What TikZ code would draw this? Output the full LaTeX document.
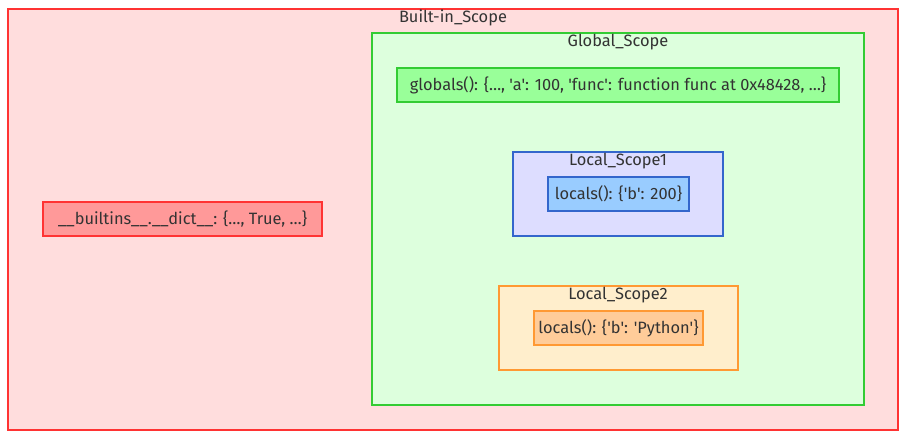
\documentclass[tikz,border=0pt]{standalone}
\usepackage{fontspec}
\newfontfamily\dfont{Fira Sans}
\definecolor{txt}{HTML}{333333}
\definecolor{redS}{HTML}{FF3333}
\definecolor{redF}{HTML}{FFDDDD}
\definecolor{redN}{HTML}{FF9999}
\definecolor{grnS}{HTML}{33CC33}
\definecolor{grnF}{HTML}{DDFFDD}
\definecolor{grnN}{HTML}{99FF99}
\definecolor{bluS}{HTML}{3366CC}
\definecolor{bluF}{HTML}{DDDDFF}
\definecolor{bluN}{HTML}{99CCFF}
\definecolor{orgS}{HTML}{FF9933}
\definecolor{orgF}{HTML}{FFEECC}
\definecolor{orgN}{HTML}{FFCC99}
\begin{document}
\begin{tikzpicture}[x=1pt,y=-1pt,
  lbl/.style={text=txt,font=\dfont\fontsize{16.4}{19}\selectfont,inner sep=0pt},
  box/.style={line width=1.5pt}]
\useasboundingbox (0,0) rectangle (906,438);
\fill[white] (0,0) rectangle (906,438);
% Built-in scope
\draw[box,draw=redS,fill=redF] (8,9) rectangle (898,430);
\node[lbl] (bt) at (453,17.5) {Built-in\_Scope};
\node[box,draw=redS,fill=redN,minimum width=279pt,minimum height=34pt,lbl] (bd) at (182.5,219) {\_\_builtins\_\_.\_\_dict\_\_: \{…, True, …\}};
% Global scope
\draw[box,draw=grnS,fill=grnF] (372,33) rectangle (864,405);
\node[lbl] (gt) at (618,42) {Global\_Scope};
\node[box,draw=grnS,fill=grnN,minimum width=442pt,minimum height=34pt,lbl] (gd) at (618,85) {globals(): \{…, 'a': 100, 'func': function func at 0x48428, …\}};
% Local scope 1
\draw[box,draw=bluS,fill=bluF] (513,152) rectangle (723,236);
\node[lbl] (l1t) at (618,161) {Local\_Scope1};
\node[box,draw=bluS,fill=bluN,minimum width=141pt,minimum height=34pt,lbl] (l1d) at (618.5,194) {locals(): \{'b': 200\}};
% Local scope 2
\draw[box,draw=orgS,fill=orgF] (499,286) rectangle (738,370);
\node[lbl] (l2t) at (618,295) {Local\_Scope2};
\node[box,draw=orgS,fill=orgN,minimum width=169pt,minimum height=34pt,lbl] (l2d) at (618.5,328) {locals(): \{'b': 'Python'\}};
\end{tikzpicture}
\end{document}
